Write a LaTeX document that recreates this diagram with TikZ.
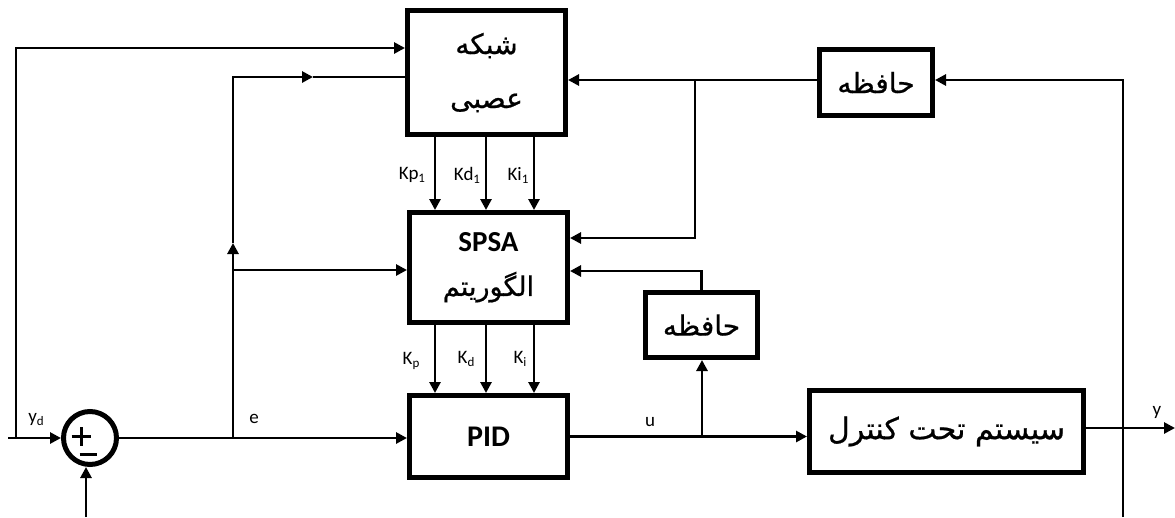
\documentclass[tikz,border=0pt]{standalone}
\usepackage{fontspec}
\setmainfont{Carlito}
\newfontfamily\fa[Script=Arabic,FakeBold=0.7]{DejaVu Sans}
\TeXXeTstate=1
\usetikzlibrary{arrows.meta}
\newcommand{\sbs}[1]{\raisebox{-3pt}{\fontsize{13}{14}\selectfont #1}}
\begin{document}
\begin{tikzpicture}[x=1pt,y=-1pt,
  blk/.style={draw,line width=5pt,rectangle,inner sep=0pt,align=center},
  wire/.style={line width=2.8pt},
  conn/.style={line width=2.8pt,-{Triangle[length=11pt,width=11pt]}},
  lbl/.style={font=\fontsize{19}{22}\selectfont,inner sep=0pt},
  fatext/.style={font=\fa\fontsize{28}{30}\selectfont},
  ]
\useasboundingbox (0,0) rectangle (1175,517);

% blocks
\node[blk,fatext,minimum width=158pt,minimum height=124pt] (nn) at (486.5,72.5)
  {\beginR شبکه\endR\\[24pt]\beginR عصبی\endR};
\node[blk,minimum width=158pt,minimum height=110pt] (spsa) at (488.5,267.5)
  {{\fontsize{29}{30}\selectfont\bfseries SPSA}\\[19pt]{\fa\fontsize{27}{30}\selectfont\beginR الگوریتم\endR}};
\node[blk,minimum width=158pt,minimum height=82pt,font=\fontsize{30}{32}\selectfont\bfseries] (pid) at (488.5,436.5) {PID};
\node[blk,fatext,minimum width=113pt,minimum height=66pt] (mem1) at (876,82.5) {\beginR حافظه\endR};
\node[blk,fatext,minimum width=112pt,minimum height=65pt] (mem2) at (701.5,325) {\beginR حافظه\endR};
\node[blk,font=\fa\fontsize{30}{32}\selectfont,minimum width=274pt,minimum height=82pt] (sys) at (946.5,431.5) {\beginR سیستم تحت کنترل\endR};
\node[circle,draw,line width=5pt,minimum size=53pt,inner sep=0pt] (sum) at (90,438) {};
\node[inner sep=0pt] (plus) at (77,436) {\rule{19pt}{3pt}\hspace{-11pt}\rule[-8pt]{3pt}{19pt}\hspace{8pt}};
\node[inner sep=0pt] (minus) at (88,454) {\rule{17pt}{3pt}};

% coordinates
\coordinate (ydin) at (8,438);
\coordinate (ydc) at (16,438);
\coordinate (ydtop) at (16,48);
\coordinate (fb) at (86,517);
\coordinate (eb) at (233,438);
\coordinate (eup) at (233,243);
\coordinate (emid) at (313,77);
\coordinate (es) at (233,270);
\coordinate (k1) at (435,0);
\coordinate (k2) at (486,0);
\coordinate (k3) at (534,0);
\coordinate (ub) at (702,436);
\coordinate (m2t) at (702,271);
\coordinate (yout) at (1175,428);
\coordinate (fbb) at (1123,517);
\coordinate (fbt) at (1123,80);
\coordinate (jn) at (695,80);
\coordinate (js) at (695,238);

% connectors
\draw[conn] (ydin) -- (sum.west);
\draw[conn] (ydc) |- (nn.west |- ydtop);
\draw[conn] (fb) -- (fb |- sum.south);
\draw[conn] (sum.east) -- (pid.west |- sum.east);
\draw[conn] (eb) -- (eup);
\draw[conn] (eup) |- (emid);
\draw[wire] (emid) -- (nn.west |- emid);
\draw[conn] (es) -- (spsa.west |- es);
\foreach \k in {k1,k2,k3}{
  \draw[conn] (nn.south -| \k) -- (spsa.north -| \k);
  \draw[conn] (spsa.south -| \k) -- (pid.north -| \k);
}
\draw[conn] (pid.east) -- (sys.west |- pid.east);
\draw[conn] (ub) -- (ub |- mem2.south);
\draw[conn] (mem2.north) |- (spsa.east |- m2t);
\draw[conn] (sys.east |- yout) -- (yout);
\draw[conn] (fbb) -- (fbt) -- (mem1.east |- fbt);
\draw[wire] (mem1.west |- jn) -- (jn);
\draw[conn] (jn) -- (nn.east |- jn);
\draw[conn] (jn) -- (js) -- (spsa.east |- js);

% labels
\node[lbl] (lyd) at (36,420) {y\sbs{d}};
\node[lbl] (le) at (254,419) {e};
\node[lbl] (lu) at (650,422) {u};
\node[lbl] (ly) at (1157,412) {y};
\node[lbl] (lkp1) at (412,175) {Kp\sbs{1}};
\node[lbl] (lkd1) at (467,175) {Kd\sbs{1}};
\node[lbl] (lki1) at (518,175) {Ki\sbs{1}};
\node[lbl] (lkp) at (411,361) {K\sbs{p}};
\node[lbl] (lkd) at (466,359) {K\sbs{d}};
\node[lbl] (lki) at (520,359) {K\sbs{i}};
\end{tikzpicture}
\end{document}
